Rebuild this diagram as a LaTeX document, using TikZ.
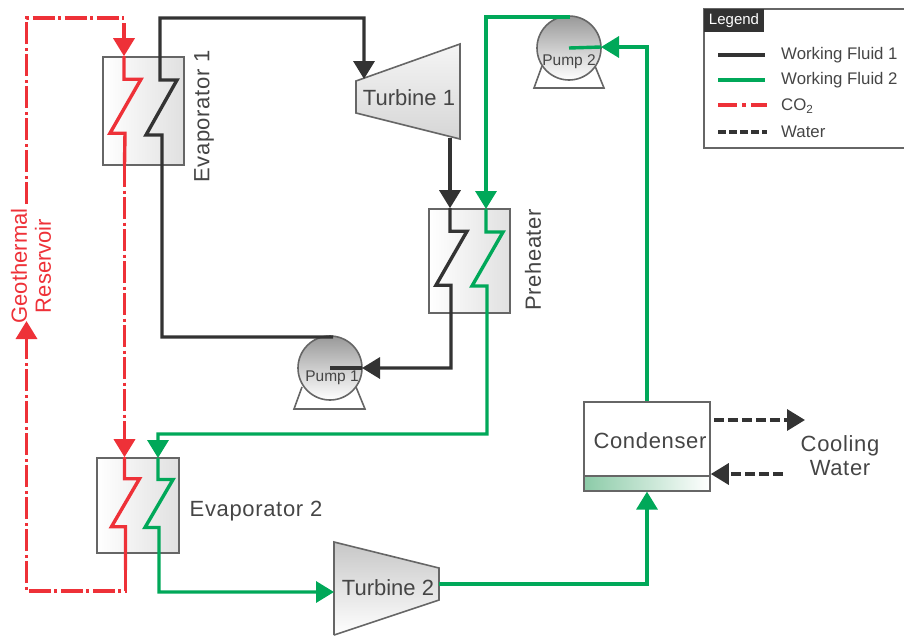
\documentclass[tikz,border=0pt]{standalone}
\usepackage{fontspec}
\setmainfont{Liberation Sans}
\usetikzlibrary{arrows.meta}
\definecolor{wfblack}{HTML}{333333}
\definecolor{wfgreen}{HTML}{00A859}
\definecolor{coxred}{HTML}{EE3138}
\definecolor{txtgray}{HTML}{454545}
\definecolor{edgegray}{HTML}{666666}
\definecolor{condgreen}{HTML}{8CCBA8}
\tikzset{
	tip/.style={-{Triangle[length=18pt,width=21pt]}},
	wfone/.style={line width=3.4pt,color=wfblack},
	wftwo/.style={line width=3.4pt,color=wfgreen},
	coxsolid/.style={line width=3.4pt,color=coxred},
	coxline/.style={coxsolid,dash pattern=on 22pt off 3.5pt on 3pt off 3.5pt},
	waterline/.style={line width=3.4pt,color=wfblack,dash pattern=on 10pt off 4pt},
	exchanger/.style={draw=edgegray,line width=1.6pt,left color=white,right color=black!12,inner sep=0pt},
	pumpbody/.style={circle,draw=edgegray,line width=1.6pt,top color=black!40,bottom color=white,minimum size=64pt,inner sep=0pt},
	pumpbase/.style={draw=edgegray,line width=1.6pt},
	lbl/.style={text=txtgray,font=\fontsize{22}{24}\selectfont,inner sep=0pt},
	lblwide/.style={text=txtgray,font=\fontsize{22}{24}\selectfont\addfontfeatures{LetterSpace=3},inner sep=0pt},
	lblsmall/.style={text=txtgray,font=\fontsize{15.5}{18}\selectfont,inner sep=0pt},
	lgd/.style={text=txtgray,font=\fontsize{16.8}{20}\selectfont,inner sep=0pt,anchor=west},
}
\newcommand{\zigzag}{-- ++(0,23) -- ++(17,0) -- ++(-31,54) -- ++(15,0)}
\newcommand{\zigzagtwo}{-- ++(0,21.5) -- ++(15,0) -- ++(-28,48) -- ++(14,0)}
\begin{document}
\begin{tikzpicture}[x=1pt,y=-1pt]
	\useasboundingbox (0,0) rectangle (904,635);
	% heat exchangers
	\node[exchanger,minimum width=81pt,minimum height=108pt] (evapone) at (143.5,111) {};
	\node[exchanger,minimum width=81pt,minimum height=104pt] (preheat) at (469.5,261) {};
	\node[exchanger,minimum width=82pt,minimum height=95pt] (evaptwo) at (138,505.5) {};
	% turbines
	\shade[top color=black!4,bottom color=black!16] (356,81) -- (460,44) -- (460,139) -- (356,113) -- cycle;
	\draw[edgegray,line width=1.6pt] (356,81) -- (460,44) -- (460,139) -- (356,113) -- cycle;
	\shade[top color=black!22,bottom color=white] (334,542) -- (439,568) -- (439,600) -- (334,635) -- cycle;
	\draw[edgegray,line width=1.6pt] (334,635) -- (334,542) -- (439,568) -- (439,600) -- (334,635);
	\coordinate (turboneinlet) at (364,79);
	\coordinate (turboneoutlet) at (450,138);
	\coordinate (turbtwoinlet) at (334,592);
	\coordinate (turbtwooutlet) at (439,584);
	% pumps
	\draw[pumpbase] (542,66) -- (534,88) -- (604,88) -- (595,66);
	\draw[pumpbase] (302,387) -- (294,409) -- (365,409) -- (356,387);
	\node[pumpbody] (pumptwo) at (569,48) {};
	\node[pumpbody] (pumpone) at (330,368) {};
	% condenser
	\node[draw=edgegray,line width=1.6pt,fill=white,minimum width=126pt,minimum height=74pt,inner sep=0pt] (cond) at (647,439) {};
	\node[draw=edgegray,line width=1.2pt,left color=condgreen,right color=white,minimum width=126pt,minimum height=15pt,inner sep=0pt] (condbase) at (647,483.5) {};
	% legend
	\draw[edgegray,line width=1.4pt] (906,9) -- (704,9) -- (704,148) -- (906,148);
	\node[fill=wfblack,minimum width=60pt,minimum height=23pt,inner sep=0pt,text=white,font=\fontsize{15}{18}\selectfont] (lgdtitle) at (734,20.5) {Legend};
	\coordinate (lgdonea) at (718,55);
	\coordinate (lgdoneb) at (765,55);
	\coordinate (lgdtwoa) at (718,80);
	\coordinate (lgdtwob) at (765,80);
	\coordinate (lgdcoxa) at (718,105);
	\coordinate (lgdcoxb) at (767,105);
	\coordinate (lgdwatera) at (718,132);
	\coordinate (lgdwaterb) at (767,132);
	\draw[wfone] (lgdonea) -- (lgdoneb);
	\draw[wftwo] (lgdtwoa) -- (lgdtwob);
	\draw[coxsolid,dash pattern=on 19pt off 5pt on 4pt off 5pt] (lgdcoxa) -- (lgdcoxb);
	\draw[waterline,dash pattern=on 8pt off 3pt] (lgdwatera) -- (lgdwaterb);
	\node[lgd] (lgdonetxt) at (781,55) {Working Fluid 1};
	\node[lgd] (lgdtwotxt) at (781,80) {Working Fluid 2};
	\node[lgd] (lgdcoxtxt) at (781,106) {CO\textsubscript{2}};
	\node[lgd] (lgdwatertxt) at (781,132) {Water};
	% working fluid 1
	\coordinate (evaponeblackin) at (161,18);
	\coordinate (pumponeout) at (333,337);
	\coordinate (pumponearrow) at (362,368);
	\draw[wfone,tip] (pumponeout) -| (162,165) -- ++(0,-30) -- ++(-16,0) -- ++(31,-55) -- ++(-17,0) |- (turboneinlet |- evaponeblackin) -- (turboneinlet);
	\draw[wfone,tip] (turboneoutlet) -- (turboneoutlet |- preheat.north);
	\draw[wfone,tip] (turboneoutlet |- preheat.north) \zigzag |- (pumponearrow);
	\draw[wfone] (pumponearrow) -- (pumpone.center);
	% working fluid 2
	\coordinate (pumptwoout) at (570,17);
	\coordinate (pumptwoarrow) at (601,47);
	\coordinate (preheatgreen) at (486,209);
	\coordinate (evaptwogreen) at (158,458);
	\coordinate (preheatbend) at (487,434);
	\draw[wftwo,tip] (pumptwoout) -| (preheatgreen);
	\draw[wftwo,tip] (preheatgreen) \zigzag -- (preheatbend) -| (evaptwogreen);
	\draw[wftwo,tip] (evaptwogreen) \zigzagtwo |- (turbtwoinlet);
	\draw[wftwo,tip] (turbtwooutlet) -| (condbase.south);
	\draw[wftwo,tip] (cond.north) |- (pumptwoarrow);
	\draw[wftwo] (pumptwoarrow) -- (pumptwo.center);
	% CO2
	\coordinate (coxtopleft) at (26.5,18);
	\coordinate (coxtopright) at (124,18);
	\coordinate (coxbotleft) at (26.5,591);
	\coordinate (coxbotright) at (125.5,591);
	\coordinate (coxup) at (26.5,321);
	\coordinate (coxupstart) at (26.5,356);
	\coordinate (coxgapend) at (26.5,204);
	\coordinate (coxdownend) at (124.5,165);
	\coordinate (coxdown) at (124.5,421);
	\coordinate (coxbotdash) at (125.5,570);
	\draw[coxsolid,tip] (124,23) -- (evapone.north -| coxtopright);
	\draw[coxsolid] (evapone.north -| coxtopright) \zigzag -- (coxdownend);
	\draw[coxline] (coxdownend) -- (coxdown);
	\draw[coxsolid,tip] (coxdown) -- (evaptwo.north -| coxdown);
	\draw[coxsolid] (evaptwo.north -| coxdown) \zigzagtwo -- (coxbotdash);
	\draw[coxline] (coxbotdash) -- (coxbotright) -- (coxbotleft) -- (coxupstart);
	\draw[coxsolid,tip] (coxupstart) -- (coxup);
	\draw[coxline] (coxgapend) -- (coxtopleft) -- (coxtopright);
	% cooling water
	\coordinate (wateroutend) at (805,420);
	\coordinate (waterinstart) at (783,474);
	\draw[waterline,tip] (cond.east |- wateroutend) ++(3,0) -- (wateroutend);
	\draw[waterline,tip] (waterinstart) -- (cond.east |- waterinstart);
	% labels
	\node[lbl] (turbonetxt) at (409,98) {Turbine 1};
	\node[lbl] (turbtwotxt) at (388,588) {Turbine 2};
	\node[lblwide] (condtxt) at (650,441) {Condenser};
	\node[lblsmall] (pumponetxt) at (332,378) {Pump 1};
	\node[lblsmall] (pumptwotxt) at (569,62) {Pump 2};
	\node[lblwide,rotate=90] (evaponetxt) at (204,116.5) {Evaporator 1};
	\node[lblwide] (evaptwotxt) at (256,511) {Evaporator 2};
	\node[lblwide,rotate=90] (preheattxt) at (533,260) {Preheater};
	\node[lblwide,align=center] (coolingtxt) at (840,456) {Cooling\\Water};
	\node[lbl,rotate=90,align=center,text=coxred] (geotxt) at (31,266) {Geothermal\\Reservoir};
\end{tikzpicture}
\end{document}
